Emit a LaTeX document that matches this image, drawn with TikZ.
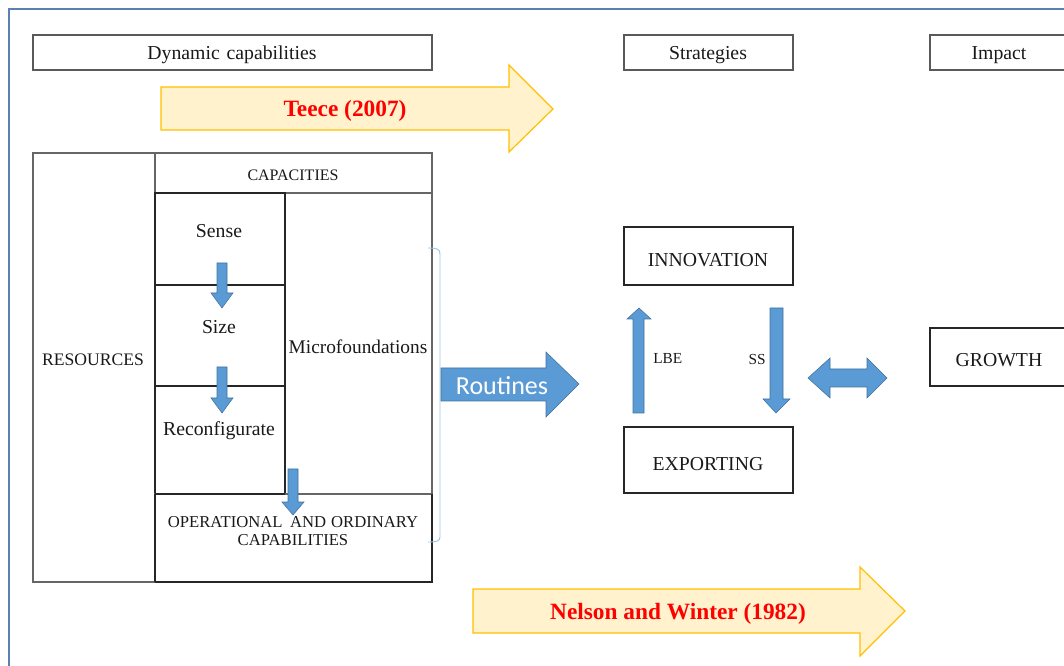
\documentclass[tikz,border=0pt]{standalone}
\usepackage{fontspec}
\setmainfont{Liberation Serif}
\newfontfamily\calibrifont{Carlito}
\usetikzlibrary{fit}

\definecolor{frameblue}{HTML}{5B80B2}
\definecolor{arrowblue}{HTML}{5B9BD5}
\definecolor{arrowedge}{HTML}{41719C}
\definecolor{notefill}{HTML}{FFF2CC}
\definecolor{noteedge}{HTML}{FFC000}
\definecolor{bracketblue}{HTML}{9DC3E6}
\definecolor{citered}{HTML}{FF0000}

\begin{document}
\begin{tikzpicture}[x=0.75pt,y=-0.75pt,
  headbox/.style={draw=black!65, line width=0.8pt, inner sep=0pt},
  outerbox/.style={draw=black!60, line width=0.9pt, inner sep=0pt},
  innerbox/.style={draw=black!85, line width=0.9pt, inner sep=0pt},
  stratbox/.style={draw=black!85, line width=1pt, inner sep=0pt},
  txt/.style={text=black!90, font=\fontsize{14.8}{17}\selectfont, inner sep=0pt},
  captxt/.style={text=black!90, font=\fontsize{12.5}{13.5}\selectfont, inner sep=0pt, align=center},
  smalltxt/.style={text=black!90, font=\fontsize{11.5}{14}\selectfont, inner sep=0pt},
  cite/.style={text=citered, font=\bfseries\fontsize{17.5}{20}\selectfont, inner sep=0pt},
  citearrow/.style={fill=notefill, draw=noteedge, line width=0.9pt, line join=miter},
  bluearrow/.style={fill=arrowblue, draw=arrowedge, line width=0.4pt, line join=miter}
]
\useasboundingbox (0,0) rectangle (1064,666);
\clip (0,0) rectangle (1064,666);

% page frame
\draw[frameblue, line width=1.1pt] (9,700) -- (9,9) -- (1100,9);

% column headings
\node[headbox, fit={(33,35)(432,70)}] (dynhead) {};
\node[headbox, fit={(624,35)(793,70)}] (strathead) {};
\node[headbox, fit={(930,35)(1068,70)}] (imphead) {};
\node[txt] (dyntxt) at (232,55) {Dynamic\hspace{0.35em}capabilities};
\node[txt] (strattxt) at (708,55) {Strategies};
\node[txt] (imptxt) at (999,55) {Impact};

% Teece arrow
\draw[citearrow] (161,87) -- (509,87) -- (509,65) -- (553,109) -- (509,152) -- (509,130) -- (161,130) -- cycle;
\node[cite] (teece) at (345,111) {Teece (2007)};

% capabilities table
\node[outerbox, fit={(33,153)(432,582)}] (table) {};
\node[outerbox, fit={(33,153)(155,582)}] (rescol) {};
\node[outerbox, fit={(155,153)(432,193)}] (capbox) {};
\node[innerbox, fit={(155,193)(285,285)}] (sensebox) {};
\node[innerbox, fit={(155,285)(285,386)}] (sizebox) {};
\node[innerbox, fit={(155,386)(285,494)}] (reconfbox) {};
\node[outerbox, fit={(155,494)(432,582)}] (opbox) {};
\draw[innerbox] (155,494) -- (285,494);
\draw[innerbox] (155,582) -- (432,582) -- (432,494);
\draw[innerbox] (155,494) -- (155,582);

\node[captxt] (restxt) at (93,360) {\fontsize{13.2}{15}\selectfont RESOURCES};
\node[captxt] (captxt) at (293,175) {\fontsize{12}{14}\selectfont CAPACITIES};
\node[txt] (sense) at (219,231) {Sense};
\node[txt] (size) at (219,327) {Size};
\node[txt] (reconf) at (219,431) {Reconfigurate};
\node[txt, font=\fontsize{14.5}{17}\selectfont] (micro) at (358,347) {Microfoundations};
\node[captxt] (optxt) at (293,531) {OPERATIONAL\hspace{0.45em}AND\hspace{0.3em}ORDINARY\\CAPABILITIES};

% sequence arrows inside the table
\draw[bluearrow] (217,263) -- (227,263) -- (227,293) -- (233,293) -- (222,308) -- (211,293) -- (217,293) -- cycle;
\draw[bluearrow] (217,367) -- (227,367) -- (227,398) -- (233,398) -- (222,413) -- (211,398) -- (217,398) -- cycle;
\draw[bluearrow] (288,469) -- (298,469) -- (298,502) -- (304,502) -- (293,515) -- (282,502) -- (288,502) -- cycle;

% bracket round the microfoundations
\draw[bracketblue, line width=0.7pt] (428,248) .. controls (437,248) and (440,249) .. (440,254) -- (440,537) .. controls (440,541) and (437,542) .. (428,542);

% routines arrow
\draw[bluearrow] (441,368) -- (546,368) -- (546,352) -- (579,384) -- (546,417) -- (546,401) -- (441,401) -- cycle;
\node[text=white, font=\calibrifont\fontsize{19.5}{22}\selectfont, inner sep=0pt] (routines) at (502,386) {Routines};

% strategies
\node[stratbox, fit={(624,227)(793,285)}] (innov) {};
\node[stratbox, fit={(624,427)(793,493)}] (export) {};
\node[txt] (innovtxt) at (708,260) {INNOVATION};
\node[txt] (exporttxt) at (708,464) {EXPORTING};
\draw[bluearrow] (639,308) -- (651,319) -- (644,319) -- (644,413) -- (633,413) -- (633,319) -- (627,319) -- cycle;
\draw[bluearrow] (770,308) -- (783,308) -- (783,399) -- (790,399) -- (776,413) -- (763,399) -- (770,399) -- cycle;
\node[smalltxt, anchor=west] (lbe) at (653,359) {LBE};
\node[smalltxt, anchor=east] (ss) at (766,359) {SS};

% two-way arrow to impact
\draw[bluearrow] (808,378) -- (830,358) -- (830,369) -- (867,369) -- (867,358) -- (887,378) -- (867,398) -- (867,387) -- (830,387) -- (830,398) -- cycle;

% impact
\node[stratbox, fit={(930,328)(1068,386)}] (growth) {};
\node[txt] (growthtxt) at (999,360) {GROWTH};

% Nelson and Winter arrow
\draw[citearrow] (473,589) -- (860,589) -- (860,567) -- (905,611) -- (860,656) -- (860,633) -- (473,633) -- cycle;
\node[cite] (nelson) at (678,614) {Nelson and Winter (1982)};
\end{tikzpicture}
\end{document}
